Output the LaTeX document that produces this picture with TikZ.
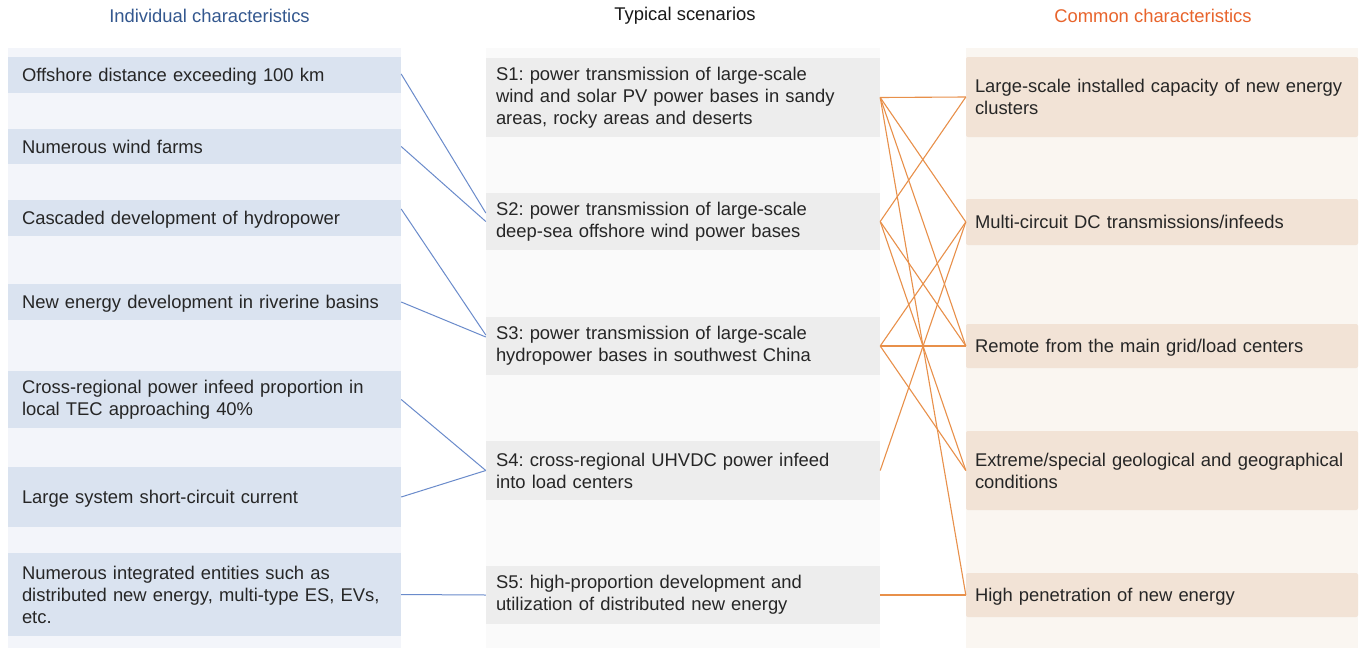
\documentclass[tikz,border=0pt]{standalone}
\usepackage{fontspec}
\setmainfont{Liberation Sans}
\frenchspacing
\definecolor{lbg}{HTML}{F3F5FA}
\definecolor{lboxc}{HTML}{DAE3F0}
\definecolor{mbg}{HTML}{FAFAFA}
\definecolor{mboxc}{HTML}{EDEDED}
\definecolor{rbg}{HTML}{FAF6F1}
\definecolor{rboxc}{HTML}{F2E3D6}
\definecolor{bline}{HTML}{6A8BCB}
\definecolor{oline}{HTML}{E8904A}
\definecolor{ttlblue}{HTML}{34588F}
\definecolor{ttlorange}{HTML}{E8642C}
\begin{document}
\begin{tikzpicture}[x=1pt,y=-1pt,
  txt/.style={font=\fontsize{18.4}{22}\selectfont},
  card/.style={rectangle, txt, align=left, inner ysep=0pt, text=black!85},
  sl/.style={text height=13pt, text depth=0pt},
  lcard/.style={card, fill=lboxc, minimum width=393pt, text width=365pt, inner xsep=14pt},
  mcard/.style={card, fill=mboxc, minimum width=394pt, text width=374pt, inner xsep=10pt},
  rcard/.style={card, fill=rboxc, minimum width=392pt, text width=374pt, inner xsep=9pt, rounded corners=2pt},
  title/.style={txt, inner sep=0pt},
  bl/.style={draw=bline, line width=1pt},
  ol/.style={draw=oline, line width=1.1pt}]
\useasboundingbox (0,0) rectangle (1362,648);
\fill[white] (0,0) rectangle (1362,648);
% column backgrounds
\fill[lbg] (8,48) rectangle (401,648);
\fill[mbg] (486,48) rectangle (880,648);
\fill[rbg] (966,48) rectangle (1358,648);
% titles
\node[title, text=ttlblue] (T1) at (209.5,16) {Individual characteristics};
\node[title, text=black!90] (T2) at (685,16) {Typical scenarios};
\node[title, text=ttlorange] (T3) at (1153,16) {Common characteristics};
% left column
\node[lcard, sl, minimum height=36pt] (L1) at (204.5,75) {Offshore distance exceeding 100 km};
\node[lcard, sl, minimum height=35pt] (L2) at (204.5,146.5) {Numerous wind farms};
\node[lcard, sl, minimum height=36pt] (L3) at (204.5,218) {Cascaded development of hydropower};
\node[lcard, sl, minimum height=36pt] (L4) at (204.5,302) {New energy development in riverine basins};
\node[lcard, minimum height=57pt] (L5) at (204.5,399.5) {Cross-regional power infeed proportion in\\local TEC approaching 40\%};
\node[lcard, sl, minimum height=60pt] (L6) at (204.5,497) {Large system short-circuit current};
\node[lcard, minimum height=83pt] (L7) at (204.5,594.5) {Numerous integrated entities such as\\distributed new energy, multi-type ES, EVs,\\etc.};
% middle column
\node[mcard, minimum height=79pt] (S1) at (683,97.5) {S1: power transmission of large-scale\\wind and solar PV power bases in sandy\\areas, rocky areas and deserts};
\node[mcard, minimum height=57pt] (S2) at (683,221.5) {S2: power transmission of large-scale\\deep-sea offshore wind power bases};
\node[mcard, minimum height=58pt] (S3) at (683,346) {S3: power transmission of large-scale\\hydropower bases in southwest China};
\node[mcard, minimum height=59pt] (S4) at (683,470.5) {S4: cross-regional UHVDC power infeed\\into load centers};
\node[mcard, minimum height=58pt] (S5) at (683,595) {S5: high-proportion development and\\utilization of distributed new energy};
% right column
\node[rcard, minimum height=80pt] (C1) at (1162,97) {Large-scale installed capacity of new energy\\clusters};
\node[rcard, sl, minimum height=46pt] (C2) at (1162,222) {Multi-circuit DC transmissions/infeeds};
\node[rcard, sl, minimum height=44pt] (C3) at (1162,346) {Remote from the main grid/load centers};
\node[rcard, minimum height=79pt] (C4) at (1162,470.5) {Extreme/special geological and geographical\\conditions};
\node[rcard, sl, minimum height=44pt] (C5) at (1162,595) {High penetration of new energy};
% blue connectors
\draw[bl] ([yshift=1pt]L1.east) -- ([yshift=8.5pt]S2.west);
\draw[bl] (L2.east) -- (S2.west);
\draw[bl] ([yshift=9pt]L3.east) -- ([yshift=11pt]S3.west);
\draw[bl] (L4.east) -- ([yshift=9pt]S3.west);
\draw[bl] (L5.east) -- (S4.west);
\draw[bl] (L6.east) -- (S4.west);
\draw[bl] (L7.east) -- (S5.west);
% orange connectors
\draw[ol] (S1.east) -- (C1.west);
\draw[ol] (S1.east) -- (C2.west);
\draw[ol] (S1.east) -- (C3.west);
\draw[ol] (S1.east) -- (C5.west);
\draw[ol] (S2.east) -- (C1.west);
\draw[ol] (S2.east) -- (C3.west);
\draw[ol] (S2.east) -- (C4.west);
\draw[ol] (S3.east) -- (C2.west);
\draw[ol] (S3.east) -- (C3.west);
\draw[ol] (S3.east) -- (C4.west);
\draw[ol] (S4.east) -- (C2.west);
\draw[ol] (S5.east) -- (C5.west);
\end{tikzpicture}
\end{document}
